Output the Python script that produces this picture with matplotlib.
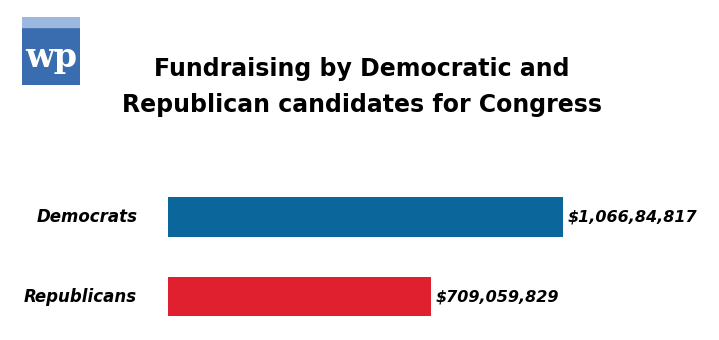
import matplotlib
matplotlib.use("Agg")
import matplotlib.pyplot as plt
from matplotlib.patches import Rectangle

categories = ["Democrats", "Republicans"]
values = [1066084817, 709059829]
value_labels = ["$1,066,84,817", "$709,059,829"]
colors = ["#0B669C", "#E01F2F"]
title = "Fundraising by Democratic and\nRepublican candidates for Congress"

W, H = 719, 340
fig = plt.figure(figsize=(W / 100, H / 100), dpi=100)
fig.patch.set_facecolor("white")

# axes from x=168 to 719, y=180 to 330 (image coords)
ax = fig.add_axes([168 / W, (H - 330) / H, (W - 168) / W, 150 / H])
ax.set_xlim(0, values[0] * 551 / 395)
ax.set_ylim(1.421, -0.465)
ypos = list(range(len(categories)))
ax.barh(ypos, values, height=0.5, color=colors)
ax.axis("off")

for y, v, lab, cat in zip(ypos, values, value_labels, categories):
    ax.text(v + values[0] * 0.012, y, lab, va="center", ha="left",
            fontsize=11.5, fontweight="bold", style="italic", family="DejaVu Sans")
    ax.text(-values[0] * 0.078, y, cat, va="center", ha="right",
            fontsize=12, fontweight="bold", style="italic", family="DejaVu Sans")

fig.text(362 / W, 1 - 87 / H, title, ha="center", va="center", fontsize=17,
         fontweight="bold", family="DejaVu Sans", linespacing=1.6)

# logo
lax = fig.add_axes([22 / W, 1 - 85 / H, 58 / W, 68 / H])
lax.set_xlim(0, 1)
lax.set_ylim(0, 1)
lax.axis("off")
lax.add_patch(Rectangle((0, 0), 1, 1, color="#3A6DB0"))
lax.add_patch(Rectangle((0, 0.85), 1, 0.15, color="#9DB8DE"))
lax.text(0.5, 0.4, "wp", ha="center", va="center", color="white", fontsize=24,
         fontweight="bold", family="DejaVu Serif")

fig.savefig("out.png", dpi=100, facecolor="white")
